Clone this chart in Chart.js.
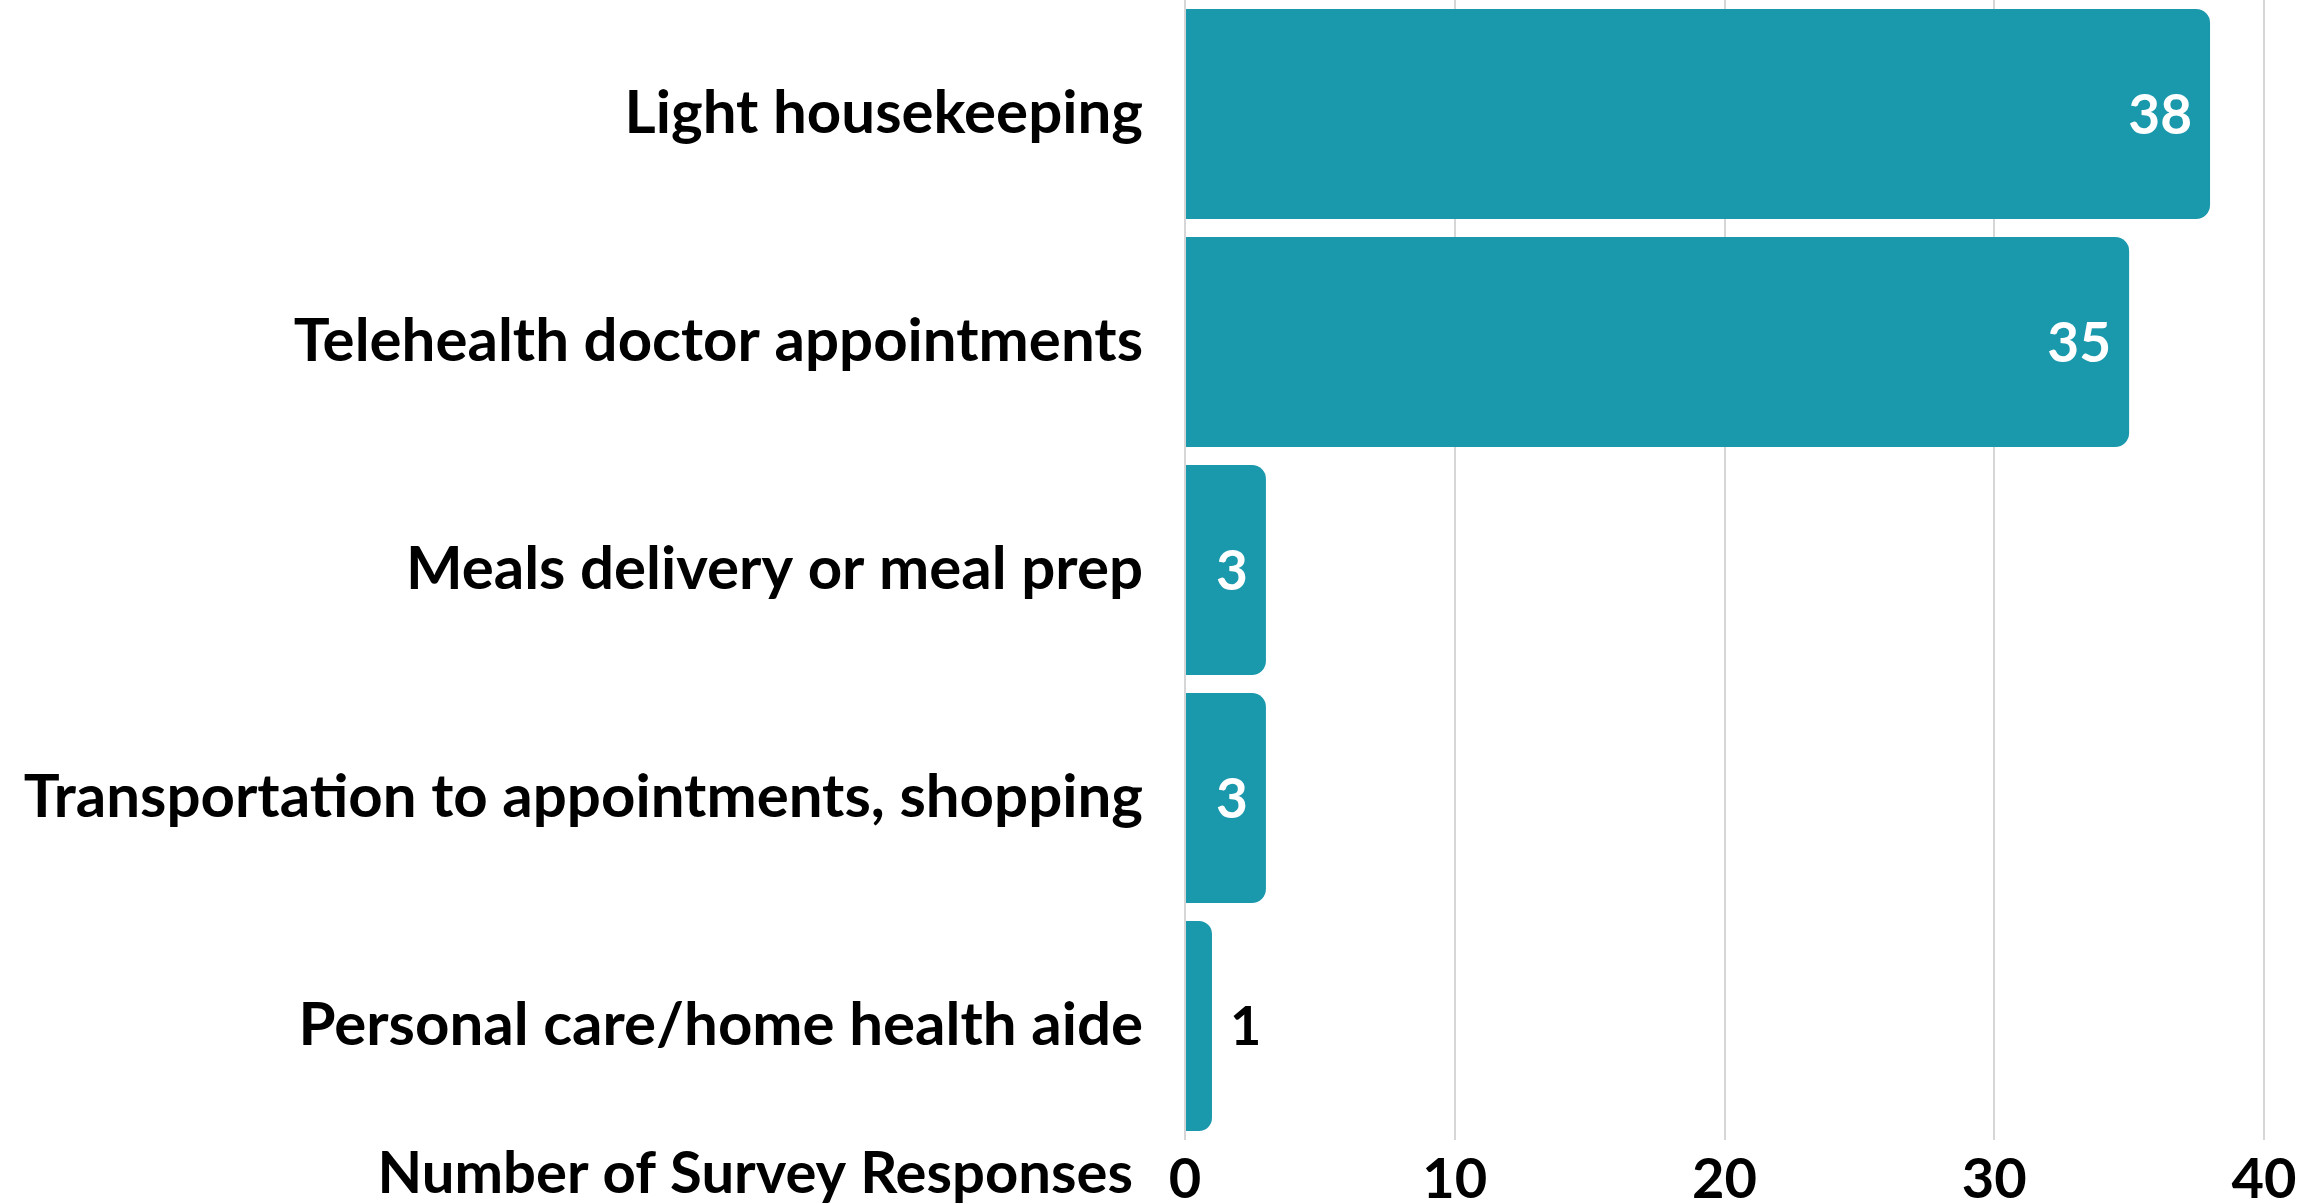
<!DOCTYPE html>
<html>
<head>
<meta charset="utf-8">
<script src="https://cdn.jsdelivr.net/npm/chart.js@4"></script>
<style>
  body { margin: 0; background: #fff; }
  canvas { display: block; }
</style>
</head>
<body>
<canvas id="chart" width="2312" height="1204"></canvas>
<script>
let categories = [
    'Light housekeeping',
    'Telehealth doctor appointments',
    'Meals delivery or meal prep',
    'Transportation to appointments, shopping',
    'Personal care/home health aide'
];
let responses = [38, 35, 3, 3, 1];
let x_min = 0;
let x_max = 40;
let x_step = 10;
let axis_title = 'Number of Survey Responses';

let bar_color = '#1A98AC';
let font_family = 'Lato, "Open Sans", sans-serif';

// value labels at the end of each bar, white inside, black outside if too narrow
let value_labels = {
    id: 'value_labels',
    afterDatasetsDraw(chart) {
        let ctx = chart.ctx;
        let meta = chart.getDatasetMeta(0);
        ctx.save();
        ctx.textBaseline = 'middle';
        meta.data.forEach((bar, i) => {
            let text = String(responses[i]);
            ctx.font = `bold 55px ${font_family}`;
            let w = ctx.measureText(text).width;
            if (bar.x - bar.base > w + 30) {
                ctx.fillStyle = '#ffffff';
                ctx.textAlign = 'right';
                ctx.fillText(text, bar.x - 18, bar.y + 2);
            } else {
                ctx.font = `bold 54px ${font_family}`;
                ctx.fillStyle = '#000000';
                ctx.textAlign = 'left';
                ctx.fillText(text, bar.x + 18, bar.y + 2);
            }
        });
        ctx.restore();
    }
};

// axis title sits on the tick row, left of the "0"
let side_title = {
    id: 'side_title',
    afterDraw(chart) {
        let ctx = chart.ctx;
        ctx.save();
        ctx.font = `bold 58px ${font_family}`;
        ctx.fillStyle = '#000000';
        ctx.textAlign = 'right';
        ctx.textBaseline = 'alphabetic';
        ctx.fillText(axis_title, chart.chartArea.left - 52, chart.height - 11);
        ctx.restore();
    }
};

let ctx = document.getElementById('chart').getContext('2d');
let chart = new Chart(ctx, {
    type: 'bar',
    data: {
        labels: categories,
        datasets: [{
            data: responses,
            backgroundColor: bar_color,
            borderRadius: 14,
            borderSkipped: 'start',
            barPercentage: 0.921,
            categoryPercentage: 1.0,
        }],
    },
    options: {
        indexAxis: 'y',
        responsive: false,
        animation: false,
        devicePixelRatio: 1,
        layout: { padding: { top: 0, right: 48, bottom: 0, left: 0 } },
        plugins: {
            legend: { display: false },
            tooltip: { enabled: false },
        },
        scales: {
            x: {
                min: x_min,
                max: x_max,
                ticks: {
                    stepSize: x_step,
                    color: '#000000',
                    padding: 6,
                    font: { family: font_family, weight: 'bold', size: 56 },
                },
                grid: { color: '#d6d6d6', lineWidth: 2, drawTicks: false },
                border: { display: false },
                afterFit: s => { s.height = 64; },
            },
            y: {
                ticks: {
                    color: '#000000',
                    padding: 42,
                    font: { family: font_family, weight: 'bold', size: 60 },
                },
                grid: { display: false, drawTicks: false },
                border: { display: false },
                afterFit: s => { s.width = 1185; s.paddingTop = 0; s.paddingBottom = 0; },
            },
        },
    },
    plugins: [value_labels, side_title],
});
</script>
</body>
</html>
